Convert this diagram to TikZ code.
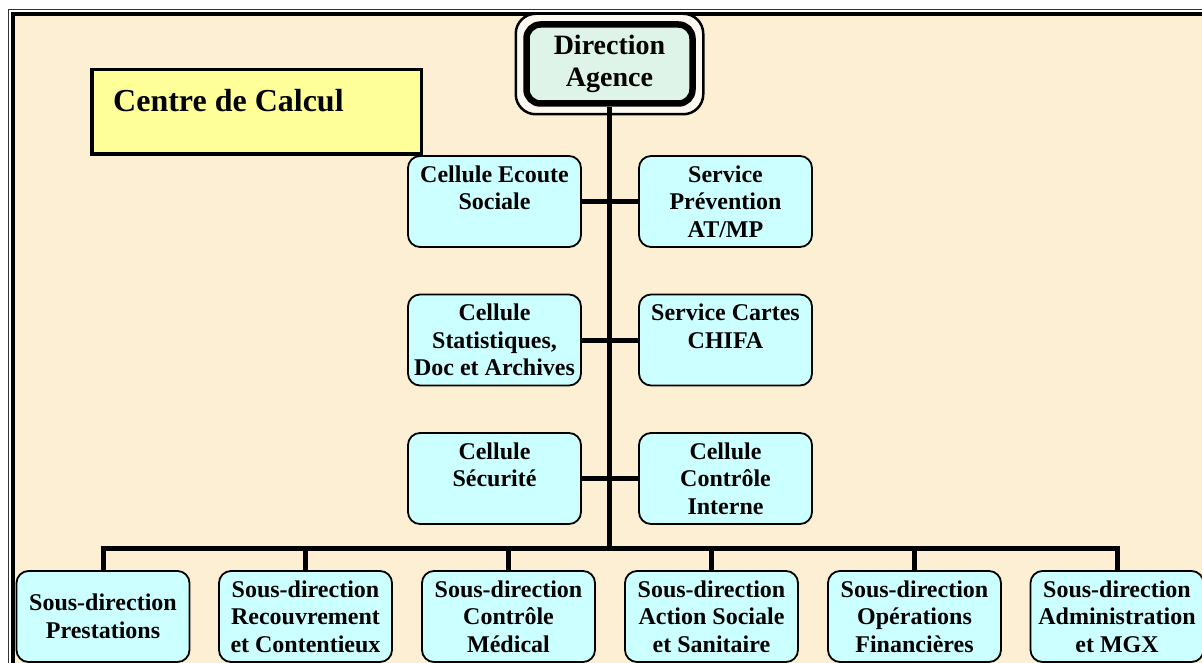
\documentclass[tikz,border=0pt]{standalone}
\usepackage{fontspec}
\setmainfont{Liberation Serif}
\definecolor{paper}{RGB}{252,239,212}
\definecolor{cellfill}{RGB}{204,255,255}
\definecolor{calcfill}{RGB}{255,255,153}
\definecolor{dirfill}{RGB}{222,244,232}
\pgfdeclarelayer{bg}
\pgfsetlayers{bg,main}
\begin{document}
\begin{tikzpicture}[x=1pt,y=-1pt,
  unit/.style={draw=black, line width=1.8pt, fill=cellfill, rounded corners=12pt,
    minimum width=173pt, minimum height=91pt, align=center, inner sep=0pt,
    font=\bfseries\fontsize{24}{27.5}\selectfont},
  headbox/.style={draw=black, line width=6.5pt, fill=dirfill, rounded corners=14pt,
    minimum width=166pt, minimum height=79pt,
    align=center, inner sep=0pt, font=\bfseries\fontsize{28}{32}\selectfont},
  headrim/.style={draw=black, line width=2.5pt, fill=paper!35!white, rounded corners=20pt},
  calcbox/.style={draw=black, line width=3.5pt, fill=calcfill,
    minimum width=329.5pt, minimum height=84.5pt, inner sep=0pt},
  link/.style={line width=5pt, line join=miter},
  ]
\useasboundingbox (0,0) rectangle (1202,663);
\clip (0,0) rectangle (1202,663);

% head of the chart
\node[headbox] (dir) at (609.5,64) {Direction\\Agence};

% computing centre label box
\node[calcbox] (calc) at (256.5,112) {};
\node[anchor=base west, inner sep=0pt, font=\bfseries\fontsize{32}{36}\selectfont]
  (calctxt) at (113,112) {Centre de Calcul};

% staff cells beside the trunk
\node[unit] (ecoute)   at (494.5,201.5) {Cellule Ecoute\\Sociale\\\mbox{}};
\node[unit] (prev)     at (725.5,201.5) {Service\\Prévention\\AT/MP};
\node[unit] (stat)     at (494.5,340)   {Cellule\\Statistiques,\\Doc et Archives};
\node[unit] (chifa)    at (725.5,340)   {Service Cartes\\CHIFA\\\mbox{}};
\node[unit] (secu)     at (494.5,478.5) {Cellule\\Sécurité\\\mbox{}};
\node[unit] (ctrl)     at (725.5,478.5) {Cellule\\Contrôle\\Interne};

% sub-directorates
\node[unit] (sd1) at (103,616.5)   {Sous-direction\\Prestations};
\node[unit] (sd2) at (305.5,616.5) {Sous-direction\\Recouvrement\\et Contentieux};
\node[unit] (sd3) at (508.5,616.5) {Sous-direction\\Contrôle\\Médical};
\node[unit] (sd4) at (711.5,616.5) {Sous-direction\\Action Sociale\\et Sanitaire};
\node[unit] (sd5) at (914.5,616.5) {Sous-direction\\Opérations\\Financières};
\node[unit] (sd6) at (1117,616.5)  {Sous-direction\\Administration\\et MGX};

\coordinate (bus) at (609.5,548);

\begin{pgfonlayer}{bg}
  % page and double frame
  \fill[white] (0,0) rectangle (1202,663);
  \fill[paper] (13,14) rectangle (1230,690);
  \draw[line width=4pt] (13.2,14) rectangle (1230,690);
  \draw[line width=1.3pt, black!80] (8.7,9.8) rectangle (1240,700);
  % thin outer rim of the head box
  \draw[headrim] ([shift={(-7.5,-7.5)}]dir.north west) rectangle ([shift={(7.5,7.5)}]dir.south east);
  % trunk and branches
  \draw[link] (dir.south) -- (bus);
  \draw[link] (ecoute.east) -- (prev.west);
  \draw[link] (stat.east) -- (chifa.west);
  \draw[link] (secu.east) -- (ctrl.west);
  \draw[link] (sd1.north) -- (sd1.north |- bus) -- (sd6.north |- bus) -- (sd6.north);
  \foreach \n in {sd2,sd3,sd4,sd5}
    \draw[link] (\n.north) -- (\n.north |- bus);
\end{pgfonlayer}
\end{tikzpicture}
\end{document}
